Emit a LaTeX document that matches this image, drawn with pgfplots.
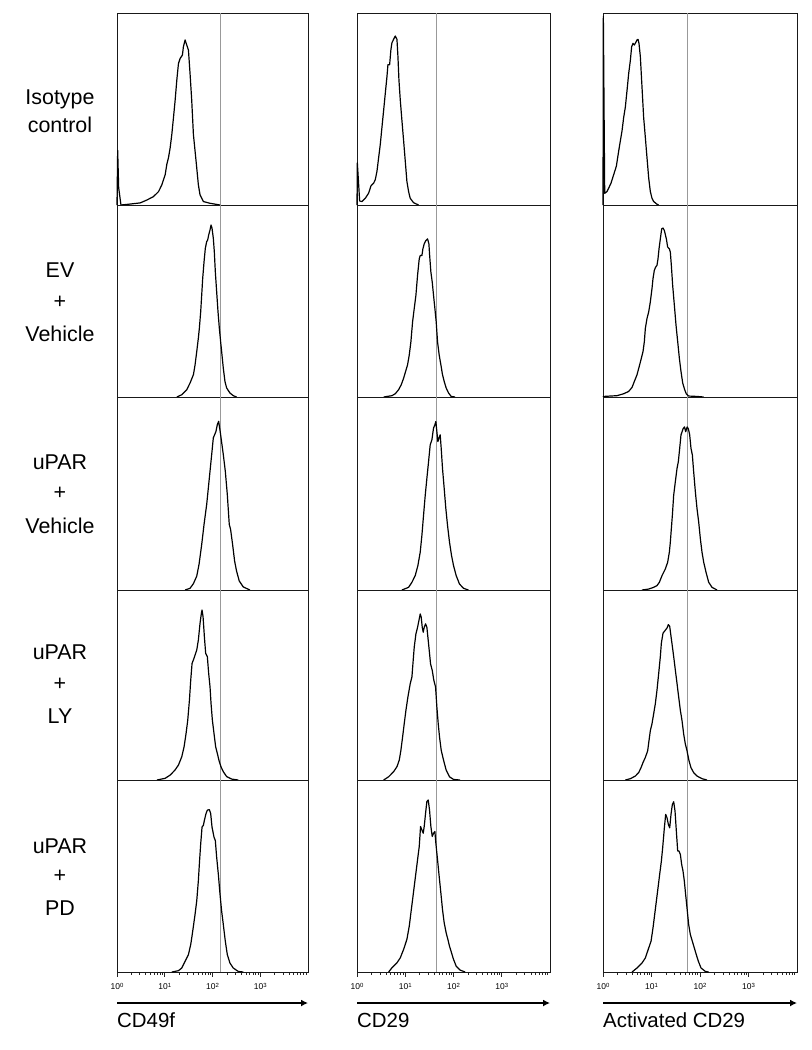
\documentclass[border=0pt]{standalone}
\usepackage{pgfplots}
\pgfplotsset{compat=1.18}
\usepackage{fontspec}
\setmainfont{Liberation Sans}
\usetikzlibrary{arrows.meta}

\pgfplotsset{
  panel/.style={
    anchor=north west, scale only axis,
    xmin=0, xmax=4, ymin=0, ymax=1,
    axis line style={black!90, line width=1.0bp},
    xtick=\empty, ytick=\empty, clip=false,
  },
  bottompanel/.style={
    panel,
    xtick={0,1,2,3},
    xticklabels={10\raisebox{0.45ex}{\fontsize{6}{6}\selectfont 0},10\raisebox{0.45ex}{\fontsize{6}{6}\selectfont 1},10\raisebox{0.45ex}{\fontsize{6}{6}\selectfont 2},10\raisebox{0.45ex}{\fontsize{6}{6}\selectfont 3}},
    minor xtick={0.301,0.477,0.602,0.699,0.778,0.845,0.903,0.954,
                 1.301,1.477,1.602,1.699,1.778,1.845,1.903,1.954,
                 2.301,2.477,2.602,2.699,2.778,2.845,2.903,2.954,
                 3.301,3.477,3.602,3.699,3.778,3.845,3.903,3.954},
    xtick pos=bottom, tick align=outside,
    major tick length=4.5bp, minor tick length=2.5bp,
    every tick/.style={black!85, line width=0.6bp},
    xticklabel style={font=\fontsize{8.5}{10}\selectfont, yshift=-3bp},
  },
  gate/.style={color=black!40, line width=0.8bp},
  hist/.style={black, line width=1.2bp, line join=round},
}

\newcommand{\rowlabel}[2]{\node[font=\fontsize{21.5}{24}\selectfont] at (60bp,-#1bp) {#2};}

\begin{document}
\begin{tikzpicture}[x=1bp,y=1bp]
\useasboundingbox (0,0) rectangle (812,-1050);

% Row labels
\rowlabel{99}{Isotype}\rowlabel{125}{control}
\rowlabel{270}{EV}\rowlabel{302}{+}\rowlabel{334}{Vehicle}
\rowlabel{462}{uPAR}\rowlabel{493}{+}\rowlabel{526}{Vehicle}
\rowlabel{652}{uPAR}\rowlabel{684}{+}\rowlabel{716}{LY}
\rowlabel{846}{uPAR}\rowlabel{876}{+}\rowlabel{908}{PD}

%================ Column 1 : CD49f ================
\begin{axis}[panel, at={(117bp,-13bp)}, width=191bp, height=192bp]
\addplot[gate] coordinates {(2.157,0) (2.157,1)};
\addplot[hist] coordinates {(0,0) (0.014,0.284) (0.035,0.09) (0.083,0) (0.278,0.005) (0.487,0.011) (0.626,0.026) (0.765,0.044) (0.870,0.070) (0.939,0.105) (1.009,0.158) (1.043,0.211) (1.078,0.246) (1.113,0.298) (1.148,0.368) (1.183,0.456) (1.217,0.544) (1.252,0.649) (1.287,0.737) (1.322,0.763) (1.370,0.781) (1.391,0.825) (1.426,0.860) (1.461,0.833) (1.496,0.807) (1.530,0.684) (1.565,0.544) (1.600,0.368) (1.635,0.281) (1.670,0.193) (1.704,0.105) (1.739,0.053) (1.809,0.018) (1.948,0.009) (2.157,0)};
\end{axis}
\begin{axis}[panel, at={(117bp,-205bp)}, width=191bp, height=192bp]
\addplot[gate] coordinates {(2.157,0) (2.157,1)};
\addplot[hist] coordinates {(1.252,0) (1.357,0.012) (1.461,0.038) (1.530,0.073) (1.600,0.116) (1.635,0.168) (1.670,0.237) (1.704,0.307) (1.725,0.359) (1.753,0.445) (1.774,0.532) (1.795,0.619) (1.823,0.705) (1.850,0.775) (1.878,0.809) (1.899,0.818) (1.920,0.844) (1.948,0.870) (1.969,0.896) (1.990,0.879) (2.017,0.827) (2.038,0.757) (2.059,0.653) (2.087,0.549) (2.115,0.445) (2.143,0.359) (2.170,0.289) (2.198,0.220) (2.226,0.151) (2.261,0.081) (2.296,0.047) (2.365,0.021) (2.435,0.007) (2.504,0)};
\end{axis}
\begin{axis}[panel, at={(117bp,-397bp)}, width=191bp, height=193bp]
\addplot[gate] coordinates {(2.157,0) (2.157,1)};
\addplot[hist] coordinates {(1.426,0) (1.530,0.009) (1.600,0.033) (1.670,0.072) (1.718,0.133) (1.774,0.236) (1.823,0.340) (1.878,0.443) (1.913,0.529) (1.948,0.616) (1.983,0.702) (2.017,0.788) (2.045,0.805) (2.073,0.822) (2.101,0.857) (2.129,0.874) (2.170,0.805) (2.226,0.702) (2.268,0.616) (2.310,0.495) (2.351,0.340) (2.379,0.314) (2.421,0.236) (2.463,0.150) (2.504,0.098) (2.560,0.047) (2.644,0.016) (2.783,0)};
\end{axis}
\begin{axis}[panel, at={(117bp,-590bp)}, width=191bp, height=190bp]
\addplot[gate] coordinates {(2.157,0) (2.157,1)};
\addplot[hist] coordinates {(0.835,0) (1.009,0.009) (1.113,0.026) (1.217,0.053) (1.287,0.079) (1.357,0.123) (1.405,0.175) (1.447,0.246) (1.482,0.316) (1.517,0.421) (1.544,0.526) (1.572,0.614) (1.600,0.632) (1.635,0.658) (1.670,0.684) (1.704,0.737) (1.739,0.825) (1.767,0.877) (1.781,0.895) (1.802,0.860) (1.830,0.754) (1.857,0.667) (1.892,0.649) (1.920,0.561) (1.948,0.491) (1.969,0.404) (1.997,0.316) (2.031,0.246) (2.066,0.175) (2.101,0.140) (2.143,0.096) (2.177,0.070) (2.226,0.044) (2.296,0.018) (2.400,0.005) (2.539,0)};
\end{axis}
\begin{axis}[bottompanel, at={(117bp,-780bp)}, width=191bp, height=192bp]
\addplot[gate] coordinates {(2.157,0) (2.157,1)};
\addplot[hist] coordinates {(1.148,0) (1.287,0.007) (1.357,0.021) (1.426,0.056) (1.496,0.091) (1.544,0.143) (1.586,0.213) (1.635,0.301) (1.670,0.371) (1.704,0.476) (1.725,0.563) (1.753,0.668) (1.781,0.755) (1.809,0.764) (1.830,0.790) (1.864,0.825) (1.892,0.843) (1.934,0.846) (1.962,0.825) (1.990,0.755) (2.031,0.703) (2.059,0.685) (2.087,0.598) (2.122,0.510) (2.157,0.406) (2.191,0.318) (2.226,0.248) (2.268,0.161) (2.310,0.091) (2.365,0.047) (2.435,0.021) (2.539,0.003) (2.644,0)};
\draw[line width=1.8bp, -{Latex[length=7bp,width=7bp]}] ([yshift=-31bp]rel axis cs:0,0) -- ([yshift=-31bp]rel axis cs:1,0);
\node[anchor=west, inner sep=0pt, font=\fontsize{20.5}{24}\selectfont] at ([yshift=-48bp]rel axis cs:0,0) {CD49f};
\end{axis}

%================ Column 2 : CD29 ================
\begin{axis}[panel, at={(357bp,-13bp)}, width=193bp, height=192bp]
\addplot[gate] coordinates {(1.637,0) (1.637,1)};
\addplot[hist] coordinates {(0,0) (0.007,0.22) (0.055,0.021) (0.103,0.018) (0.172,0.035) (0.241,0.062) (0.290,0.100) (0.345,0.114) (0.379,0.132) (0.414,0.176) (0.448,0.246) (0.483,0.317) (0.517,0.405) (0.552,0.493) (0.586,0.581) (0.621,0.669) (0.641,0.731) (0.676,0.731) (0.703,0.810) (0.724,0.845) (0.759,0.863) (0.793,0.880) (0.828,0.863) (0.848,0.775) (0.869,0.651) (0.897,0.546) (0.931,0.440) (0.966,0.335) (1.000,0.229) (1.034,0.123) (1.069,0.070) (1.103,0.035) (1.172,0.012) (1.276,0)};
\end{axis}
\begin{axis}[panel, at={(357bp,-205bp)}, width=193bp, height=192bp]
\addplot[gate] coordinates {(1.637,0) (1.637,1)};
\addplot[hist] coordinates {(0.552,0) (0.724,0.007) (0.793,0.017) (0.862,0.038) (0.917,0.064) (0.966,0.098) (1.007,0.133) (1.048,0.168) (1.083,0.219) (1.117,0.288) (1.152,0.392) (1.186,0.461) (1.221,0.530) (1.255,0.634) (1.290,0.720) (1.310,0.737) (1.345,0.737) (1.366,0.772) (1.393,0.798) (1.428,0.815) (1.462,0.824) (1.490,0.798) (1.503,0.746) (1.531,0.651) (1.559,0.599) (1.586,0.530) (1.614,0.461) (1.641,0.392) (1.669,0.288) (1.703,0.219) (1.738,0.168) (1.772,0.116) (1.807,0.081) (1.848,0.047) (1.897,0.021) (1.952,0.003) (2.034,0)};
\end{axis}
\begin{axis}[panel, at={(357bp,-397bp)}, width=193bp, height=193bp]
\addplot[gate] coordinates {(1.637,0) (1.637,1)};
\addplot[hist] coordinates {(0.931,0) (1.069,0.014) (1.138,0.040) (1.207,0.075) (1.262,0.127) (1.310,0.196) (1.345,0.283) (1.379,0.387) (1.414,0.491) (1.448,0.578) (1.483,0.665) (1.517,0.752) (1.552,0.778) (1.586,0.839) (1.614,0.856) (1.634,0.873) (1.655,0.821) (1.676,0.769) (1.697,0.786) (1.724,0.804) (1.745,0.734) (1.772,0.630) (1.807,0.526) (1.841,0.422) (1.876,0.335) (1.917,0.248) (1.959,0.179) (2.000,0.127) (2.055,0.075) (2.124,0.031) (2.207,0.009) (2.310,0)};
\end{axis}
\begin{axis}[panel, at={(357bp,-590bp)}, width=193bp, height=190bp]
\addplot[gate] coordinates {(1.637,0) (1.637,1)};
\addplot[hist] coordinates {(0.552,0) (0.655,0.017) (0.759,0.044) (0.828,0.070) (0.876,0.105) (0.910,0.157) (0.945,0.227) (0.979,0.297) (1.014,0.367) (1.055,0.437) (1.103,0.507) (1.138,0.542) (1.159,0.612) (1.186,0.699) (1.221,0.769) (1.255,0.804) (1.283,0.839) (1.310,0.874) (1.331,0.857) (1.352,0.804) (1.372,0.778) (1.393,0.804) (1.421,0.822) (1.448,0.804) (1.469,0.752) (1.497,0.682) (1.524,0.612) (1.559,0.577) (1.593,0.524) (1.628,0.490) (1.655,0.385) (1.683,0.297) (1.710,0.227) (1.745,0.157) (1.793,0.105) (1.848,0.052) (1.917,0.017) (2.000,0.003) (2.138,0)};
\end{axis}
\begin{axis}[bottompanel, at={(357bp,-780bp)}, width=193bp, height=192bp]
\addplot[gate] coordinates {(1.637,0) (1.637,1)};
\addplot[hist] coordinates {(0.655,0) (0.724,0.022) (0.828,0.048) (0.897,0.074) (0.966,0.118) (1.034,0.170) (1.083,0.239) (1.117,0.308) (1.152,0.377) (1.186,0.446) (1.221,0.516) (1.255,0.585) (1.290,0.654) (1.317,0.758) (1.345,0.740) (1.372,0.723) (1.393,0.758) (1.421,0.827) (1.448,0.888) (1.476,0.896) (1.503,0.844) (1.531,0.758) (1.559,0.706) (1.586,0.723) (1.614,0.732) (1.634,0.671) (1.669,0.585) (1.703,0.498) (1.738,0.412) (1.772,0.325) (1.807,0.256) (1.848,0.204) (1.883,0.170) (1.917,0.135) (1.959,0.100) (2.000,0.066) (2.055,0.031) (2.138,0.010) (2.241,0)};
\draw[line width=1.8bp, -{Latex[length=7bp,width=7bp]}] ([yshift=-31bp]rel axis cs:0,0) -- ([yshift=-31bp]rel axis cs:1,0);
\node[anchor=west, inner sep=0pt, font=\fontsize{20.5}{24}\selectfont] at ([yshift=-48bp]rel axis cs:0,0) {CD29};
\end{axis}

%================ Column 3 : Activated CD29 ================
\begin{axis}[panel, at={(603bp,-13bp)}, width=194bp, height=192bp]
\addplot[gate] coordinates {(1.732,0) (1.732,1)};
\addplot[hist] coordinates {(0,0) (0.007,0.982) (0.035,0.061) (0.082,0.070) (0.117,0.088) (0.165,0.114) (0.220,0.158) (0.275,0.202) (0.323,0.281) (0.357,0.333) (0.392,0.386) (0.426,0.456) (0.460,0.509) (0.495,0.596) (0.529,0.684) (0.564,0.754) (0.591,0.825) (0.619,0.842) (0.646,0.833) (0.674,0.846) (0.701,0.860) (0.722,0.863) (0.742,0.842) (0.770,0.772) (0.804,0.614) (0.838,0.456) (0.873,0.351) (0.907,0.246) (0.942,0.140) (0.976,0.070) (1.010,0.035) (1.045,0.018) (1.113,0.004) (1.148,0)};
\end{axis}
\begin{axis}[panel, at={(603bp,-205bp)}, width=194bp, height=192bp]
\addplot[gate] coordinates {(1.732,0) (1.732,1)};
\addplot[hist] coordinates {(0,0) (0.014,0.003) (0.289,0.007) (0.426,0.017) (0.529,0.029) (0.598,0.050) (0.646,0.081) (0.701,0.116) (0.756,0.168) (0.790,0.202) (0.825,0.237) (0.852,0.288) (0.873,0.358) (0.907,0.409) (0.942,0.444) (0.976,0.496) (1.010,0.565) (1.031,0.617) (1.058,0.660) (1.086,0.677) (1.113,0.686) (1.134,0.720) (1.155,0.772) (1.182,0.824) (1.210,0.876) (1.237,0.880) (1.265,0.867) (1.306,0.824) (1.333,0.781) (1.368,0.772) (1.388,0.755) (1.409,0.686) (1.436,0.582) (1.471,0.478) (1.505,0.375) (1.540,0.288) (1.574,0.202) (1.608,0.133) (1.643,0.073) (1.684,0.038) (1.718,0.016) (1.766,0.005) (1.938,0.003) (2.076,0)};
\end{axis}
\begin{axis}[panel, at={(603bp,-397bp)}, width=194bp, height=193bp]
\addplot[gate] coordinates {(1.732,0) (1.732,1)};
\addplot[hist] coordinates {(0.804,0) (0.942,0.005) (1.045,0.014) (1.113,0.023) (1.162,0.040) (1.217,0.075) (1.285,0.109) (1.333,0.144) (1.368,0.196) (1.388,0.248) (1.409,0.318) (1.430,0.387) (1.457,0.491) (1.491,0.561) (1.526,0.630) (1.553,0.665) (1.581,0.734) (1.608,0.804) (1.650,0.835) (1.680,0.845) (1.705,0.820) (1.735,0.845) (1.760,0.835) (1.787,0.804) (1.814,0.734) (1.842,0.700) (1.869,0.613) (1.904,0.509) (1.938,0.422) (1.973,0.352) (2.007,0.266) (2.041,0.196) (2.076,0.144) (2.124,0.092) (2.179,0.040) (2.247,0.014) (2.351,0)};
\end{axis}
\begin{axis}[panel, at={(603bp,-590bp)}, width=194bp, height=190bp]
\addplot[gate] coordinates {(1.732,0) (1.732,1)};
\addplot[hist] coordinates {(0.460,0) (0.564,0.007) (0.667,0.021) (0.735,0.039) (0.784,0.065) (0.825,0.092) (0.873,0.119) (0.921,0.154) (0.948,0.207) (0.976,0.260) (1.010,0.296) (1.045,0.349) (1.079,0.402) (1.113,0.473) (1.148,0.561) (1.182,0.650) (1.203,0.720) (1.237,0.773) (1.265,0.782) (1.292,0.791) (1.320,0.800) (1.347,0.818) (1.375,0.809) (1.402,0.756) (1.430,0.703) (1.457,0.650) (1.491,0.579) (1.526,0.508) (1.560,0.437) (1.595,0.366) (1.629,0.313) (1.663,0.242) (1.698,0.189) (1.732,0.154) (1.773,0.101) (1.814,0.065) (1.869,0.039) (1.938,0.021) (2.041,0.007) (2.144,0)};
\end{axis}
\begin{axis}[bottompanel, at={(603bp,-780bp)}, width=194bp, height=192bp]
\addplot[gate] coordinates {(1.732,0) (1.732,1)};
\addplot[hist] coordinates {(0.598,0) (0.701,0.021) (0.804,0.047) (0.873,0.073) (0.942,0.125) (0.990,0.160) (1.031,0.230) (1.065,0.299) (1.100,0.369) (1.134,0.438) (1.168,0.508) (1.203,0.577) (1.230,0.647) (1.265,0.751) (1.292,0.821) (1.320,0.803) (1.347,0.769) (1.375,0.751) (1.402,0.821) (1.430,0.873) (1.457,0.887) (1.485,0.838) (1.512,0.734) (1.540,0.630) (1.567,0.630) (1.595,0.612) (1.622,0.560) (1.650,0.525) (1.677,0.473) (1.704,0.403) (1.732,0.334) (1.766,0.247) (1.801,0.195) (1.842,0.160) (1.883,0.125) (1.924,0.090) (1.966,0.056) (2.021,0.021) (2.110,0.003) (2.179,0)};
\draw[line width=1.8bp, -{Latex[length=7bp,width=7bp]}] ([yshift=-31bp]rel axis cs:0,0) -- ([yshift=-31bp]rel axis cs:1,0);
\node[anchor=west, inner sep=0pt, font=\fontsize{20.5}{24}\selectfont] at ([yshift=-48bp]rel axis cs:0,0) {Activated CD29};
\end{axis}
\end{tikzpicture}
\end{document}
